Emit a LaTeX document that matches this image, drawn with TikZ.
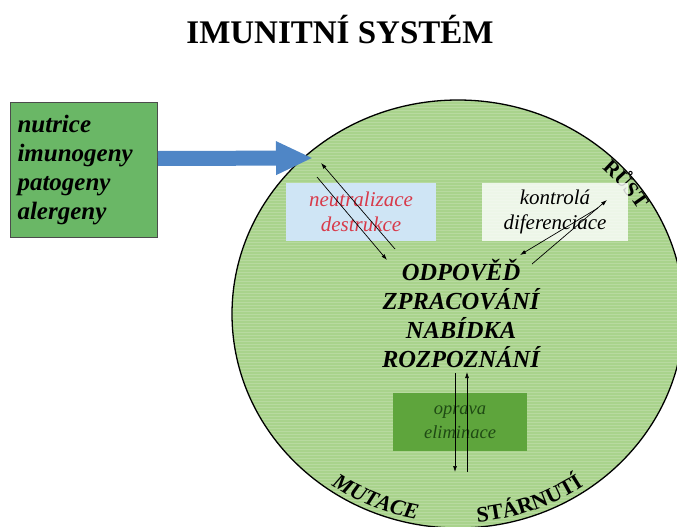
\documentclass[tikz,border=0pt]{standalone}
\usepackage{fontspec}
\setmainfont{Liberation Serif}
\usetikzlibrary{arrows.meta,shapes.geometric,decorations.text}
\definecolor{circfill}{HTML}{A9D38C}
\definecolor{inboxfill}{HTML}{6AB766}
\definecolor{arrowblue}{HTML}{4F86C6}
\definecolor{lightblue}{HTML}{CFE5F5}
\definecolor{repgreen}{HTML}{5EA53C}
\definecolor{redtext}{HTML}{D83A4A}
\definecolor{darkgreentext}{HTML}{1F4A14}
\begin{document}
\begin{tikzpicture}[x=1pt,y=-1pt,
  thinarrow/.style={-{Latex[length=6pt,width=4pt]}, line width=0.7pt},
  bluearrow/.style={-{Triangle[length=37pt,width=31pt]}, line width=15pt, draw=arrowblue},
  inbox/.style={draw=black!70, line width=1pt, fill=inboxfill, anchor=north west,
    minimum width=147pt, minimum height=135pt, inner sep=7pt, text width=133pt, align=left,
    font=\fontsize{25}{28.7}\selectfont\bfseries\itshape},
  smallbox/.style={minimum width=150pt, minimum height=58pt, inner sep=0pt, align=center,
    font=\fontsize{21}{25}\selectfont\itshape},
  curved/.style={decorate, decoration={text along path, text align=center, text={#1}}}
]
\useasboundingbox (0,0) rectangle (677,527);
\begin{scope}
  \clip (0,0) rectangle (677,527);
  \node[ellipse, fill=circfill, draw=black, line width=1.3pt, minimum width=452pt,
        minimum height=428pt, inner sep=0pt] (sys) at (458,314) {};
  \begin{scope}
    \clip (458,314) ellipse [x radius=225, y radius=213];
    \foreach \yy in {98,101,...,530} \draw[white, opacity=0.18, line width=1pt] (230,\yy) -- (686,\yy);
  \end{scope}
  \begin{scope}[shift={(458,314)}, y=1pt]
    \path[curved={|\fontsize{22}{22}\selectfont\bfseries\itshape|MUTACE}]
      (220:221 and 209) arc [start angle=220, end angle=274, x radius=221, y radius=209];
    \path[curved={|\fontsize{22}{22}\selectfont\bfseries|STÁRNUTÍ}]
      (264:221 and 209) arc [start angle=264, end angle=316, x radius=221, y radius=209];
    \path[curved={|\fontsize{21}{21}\selectfont\bfseries|RŮST}]
      (62:211 and 199) arc [start angle=62, end angle=16, x radius=211, y radius=199];
  \end{scope}
\end{scope}

\node[font=\fontsize{33}{33}\selectfont\bfseries, anchor=base] (title) at (340,44) {IMUNITNÍ SYSTÉM};

\node[inbox] (inputs) at (10,102) {nutrice\\imunogeny\\patogeny\\alergeny};
\coordinate (tip) at (313,158);
\draw[bluearrow] ([yshift=11.5pt]inputs.east) -- (tip);

\node[smallbox, fill=lightblue, text=redtext] (neut) at (361,212) {neutralizace\\destrukce};
\node[smallbox, minimum width=146pt, fill=white, fill opacity=0.8, text opacity=1] (ctrl) at (555,212) {kontrolá\\diferenciace};
\node[smallbox, minimum width=134pt, fill=repgreen, text=darkgreentext,
      font=\fontsize{18.5}{24}\selectfont\itshape] (rep) at (460,422) {oprava\\eliminace};

\node[align=center, inner sep=0pt, font=\fontsize{24.5}{29}\selectfont\bfseries\itshape] (resp) at (461,313)
  {ODPOVĚĎ\\ZPRACOVÁNÍ\\NABÍDKA\\ROZPOZNÁNÍ};

\coordinate (a1s) at (395,249); \coordinate (a1e) at (321,163);
\coordinate (a2s) at (317,177); \coordinate (a2e) at (387,260);
\coordinate (a3s) at (598,208); \coordinate (a3e) at (520,255);
\coordinate (a4s) at (532,264); \coordinate (a4e) at (607,200);
\coordinate (a5s) at (455,373); \coordinate (a5e) at (455,472);
\coordinate (a6s) at (467,472); \coordinate (a6e) at (467,372);
\draw[thinarrow] (a1s) -- (a1e);
\draw[thinarrow] (a2s) -- (a2e);
\draw[thinarrow] (a3s) -- (a3e);
\draw[thinarrow] (a4s) -- (a4e);
\draw[thinarrow] (a5s) -- (a5e);
\draw[thinarrow] (a6s) -- (a6e);
\end{tikzpicture}
\end{document}
